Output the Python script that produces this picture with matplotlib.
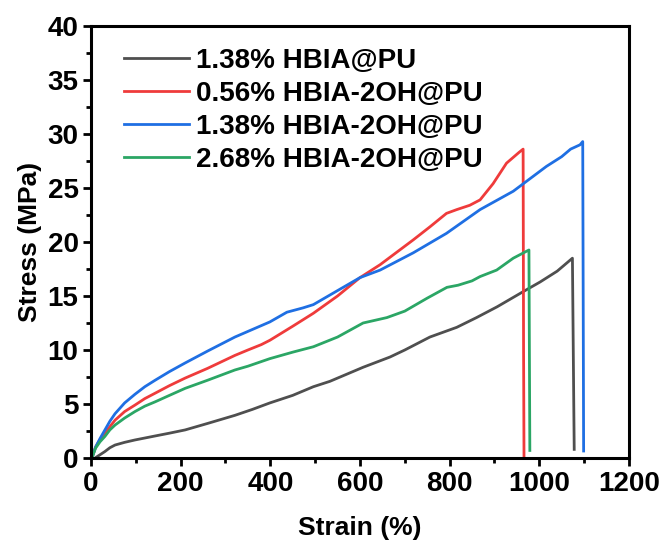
import matplotlib
matplotlib.use("Agg")
import matplotlib.pyplot as plt
from matplotlib.ticker import MultipleLocator

plt.rcParams['font.family'] = ['Liberation Sans', 'DejaVu Sans']
plt.rcParams['font.weight'] = 'bold'

labels = ["1.38% HBIA@PU", "0.56% HBIA-2OH@PU", "1.38% HBIA-2OH@PU", "2.68% HBIA-2OH@PU"]
colors = ["#4f4f4f", "#ef3b3b", "#1f6fe3", "#2ba665"]

strain_black = [9, 20, 31, 42, 53.5, 75, 98, 120, 143, 175, 210, 260, 321, 360, 399, 450, 496, 533, 607, 667, 700, 756, 816, 860, 906, 964, 1002, 1040, 1074, 1077, 1078]
stress_black = [0, 0.3, 0.6, 0.95, 1.2, 1.45, 1.67, 1.85, 2.04, 2.3, 2.6, 3.2, 3.95, 4.5, 5.1, 5.8, 6.6, 7.1, 8.4, 9.35, 10.0, 11.2, 12.1, 13.0, 14.0, 15.4, 16.3, 17.3, 18.5, 5.0, 0.8]

strain_red = [2, 10, 20, 31, 42, 53.5, 75, 98, 120, 143, 175, 210, 260, 321, 350, 380, 399, 450, 496, 550, 600, 645, 719, 756, 793, 816, 845, 868, 897, 927, 955, 964, 965, 966]
stress_red = [0, 1.0, 1.7, 2.3, 2.9, 3.5, 4.3, 4.9, 5.5, 6.0, 6.7, 7.4, 8.3, 9.5, 10.0, 10.5, 10.9, 12.2, 13.4, 15.0, 16.7, 17.9, 20.2, 21.4, 22.65, 23.0, 23.4, 23.9, 25.4, 27.3, 28.3, 28.6, 10.0, 0]

strain_blue = [2, 10, 20, 31, 42, 53.5, 75, 98, 120, 143, 175, 210, 260, 321, 360, 399, 437, 473, 496, 550, 600, 645, 719, 793, 868, 942, 1016, 1050, 1070, 1091, 1097, 1098, 1099]
stress_blue = [0, 1.0, 1.8, 2.6, 3.4, 4.1, 5.1, 5.9, 6.6, 7.2, 8.0, 8.8, 9.9, 11.2, 11.9, 12.6, 13.5, 13.9, 14.2, 15.5, 16.7, 17.4, 19.0, 20.8, 23.0, 24.7, 27.0, 27.9, 28.6, 29.0, 29.3, 15.0, 0.65]

strain_green = [2, 10, 20, 31, 42, 53.5, 75, 98, 120, 143, 175, 210, 260, 321, 350, 399, 450, 496, 550, 607, 660, 700, 750, 794, 819, 850, 868, 905, 942, 965, 977, 978, 979]
stress_green = [0, 0.9, 1.5, 2.0, 2.6, 3.05, 3.7, 4.3, 4.8, 5.2, 5.8, 6.45, 7.2, 8.15, 8.5, 9.2, 9.8, 10.3, 11.2, 12.5, 13.0, 13.6, 14.8, 15.8, 16.0, 16.4, 16.8, 17.4, 18.5, 19.0, 19.26, 10.0, 0.7]

series_x = [strain_black, strain_red, strain_blue, strain_green]
series_y = [stress_black, stress_red, stress_blue, stress_green]

fig = plt.figure(figsize=(6.62, 5.47), dpi=100)
ax = fig.add_axes([0.1375, 0.1627, 0.8125, 0.7898])

for xs, ys, c, lab in zip(series_x, series_y, colors, labels):
    ax.plot(xs, ys, color=c, lw=2.0, label=lab, solid_joinstyle='round')

ax.set_xlim(0, 1200)
ax.set_ylim(0, 40)
ax.xaxis.set_major_locator(MultipleLocator(200))
ax.xaxis.set_minor_locator(MultipleLocator(100))
ax.yaxis.set_major_locator(MultipleLocator(5))
ax.yaxis.set_minor_locator(MultipleLocator(2.5))
ax.tick_params(which='major', direction='out', length=6, width=2, labelsize=20, pad=3)
ax.tick_params(which='minor', direction='out', length=3.5, width=2)
for s in ax.spines.values():
    s.set_linewidth(2.2)
for lab in ax.get_xticklabels() + ax.get_yticklabels():
    lab.set_fontweight('bold')

ax.set_xlabel("Strain (%)", fontsize=19, fontweight='bold', labelpad=14)
ax.set_ylabel("Stress (MPa)", fontsize=19, fontweight='bold', labelpad=4)

leg = ax.legend(loc='upper left', frameon=False, fontsize=20, handlelength=2.35,
                handletextpad=0.25, labelspacing=0.25, borderaxespad=0.0,
                bbox_to_anchor=(0.04, 0.975))
for t in leg.get_texts():
    t.set_fontweight('bold')

fig.savefig("out.png", dpi=100)
